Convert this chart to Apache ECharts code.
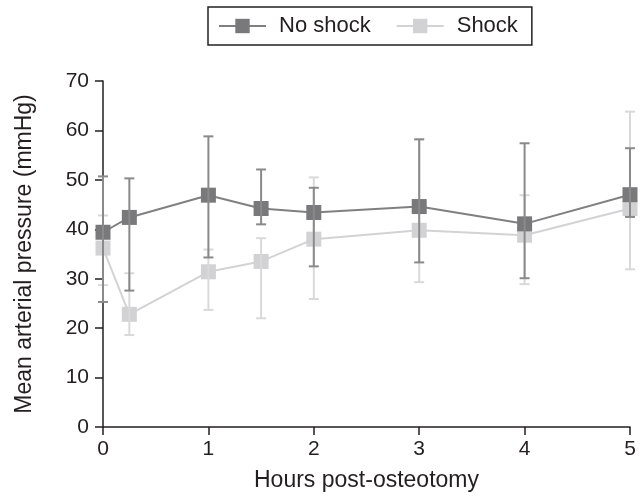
<!DOCTYPE html>
<html>
<head>
<meta charset="utf-8">
<script src="https://cdn.jsdelivr.net/npm/echarts@6/dist/echarts.min.js"></script>
<style>html,body{margin:0;padding:0;background:#fff}#c{width:644px;height:497px}</style>
</head>
<body>
<div id="c"></div>
<script>
var times = [0, 0.25, 1, 1.5, 2, 3, 4, 5];
var noShockMean = [39.4, 42.4, 46.9, 44.2, 43.4, 44.6, 41.1, 47.0];
var noShockUpper = [50.7, 50.3, 58.8, 52.1, 48.4, 58.2, 57.4, 56.4];
var noShockLower = [25.3, 27.6, 34.3, 41.0, 32.5, 33.3, 30.1, 42.5];
var shockMean = [36.2, 22.8, 31.4, 33.5, 38.0, 39.8, 38.8, 44.2];
var shockUpper = [42.8, 31.1, 35.9, 38.2, 50.5, 58.2, 46.9, 63.8];
var shockLower = [28.7, 18.6, 23.7, 22.0, 25.9, 29.3, 28.9, 31.9];
var xTicks = [0, 1, 2, 3, 4, 5];
var yTicks = [0, 10, 20, 30, 40, 50, 60, 70];

var FONT = 'Liberation Sans, Arial, sans-serif';
var DARK = '#79797b', DARK_LINE = '#808082', DARK_ERR = '#8a8a8c';
var LIGHT = '#d2d2d4', LIGHT_LINE = '#d3d3d5', LIGHT_ERR = '#d9d9db';

function pairs(xs, ys){ return xs.map(function(x,i){ return [x, ys[i]]; }); }
function errData(xs, lo, hi){ return xs.map(function(x,i){ return [x, lo[i], hi[i]]; }); }
function errRenderer(color){
  return function(params, api){
    var x = api.value(0);
    var pLo = api.coord([x, api.value(1)]);
    var pHi = api.coord([x, api.value(2)]);
    var hw = 5;
    var st = {stroke: color, lineWidth: 2};
    return {type:'group', children:[
      {type:'line', shape:{x1:pLo[0], y1:pLo[1], x2:pHi[0], y2:pHi[1]}, style:st},
      {type:'line', shape:{x1:pHi[0]-hw, y1:pHi[1], x2:pHi[0]+hw, y2:pHi[1]}, style:st},
      {type:'line', shape:{x1:pLo[0]-hw, y1:pLo[1], x2:pLo[0]+hw, y2:pLo[1]}, style:st}
    ]};
  };
}

var chart = echarts.init(document.getElementById('c'), null, {renderer:'canvas'});
chart.setOption({
  animation: false,
  backgroundColor: '#fff',
  textStyle: {fontFamily: FONT},
  grid: {left: 103, right: 14, top: 81, bottom: 65, containLabel: false},
  legend: {
    data: ['No shock', 'Shock'],
    left: 208, top: 7,
    padding: [8, 14, 8, 10],
    itemGap: 25,
    itemWidth: 47, itemHeight: 18,
    borderColor: '#222', borderWidth: 1.5,
    textStyle: {fontSize: 22, color: '#231f20', fontFamily: FONT, padding: [0,0,0,8]}
  },
  xAxis: {
    type: 'value', min: xTicks[0], max: xTicks[xTicks.length-1], interval: 1,
    name: 'Hours post-osteotomy', nameLocation: 'middle', nameGap: 42,
    nameTextStyle: {fontSize: 23, color: '#231f20', fontFamily: FONT},
    axisLine: {show: true, onZero: false, lineStyle: {color: '#231f20', width: 1.5}},
    axisTick: {show: true, length: 8, inside: false, lineStyle: {color: '#231f20', width: 1.5}},
    axisLabel: {fontSize: 21, color: '#231f20', margin: 12, fontFamily: FONT},
    splitLine: {show: false}
  },
  yAxis: {
    type: 'value', min: yTicks[0], max: yTicks[yTicks.length-1], interval: 10,
    name: 'Mean arterial pressure (mmHg)', nameLocation: 'middle', nameGap: 67,
    nameTextStyle: {fontSize: 23, color: '#231f20', fontFamily: FONT},
    axisLine: {show: true, lineStyle: {color: '#231f20', width: 1.5}},
    axisTick: {show: true, length: 8, inside: false, lineStyle: {color: '#231f20', width: 1.5}},
    axisLabel: {fontSize: 21, color: '#231f20', margin: 14, fontFamily: FONT},
    splitLine: {show: false}
  },
  series: [
    {
      name: 'Shock', type: 'line', z: 1,
      data: pairs(times, shockMean),
      symbol: 'rect', symbolSize: 15, showAllSymbol: true,
      lineStyle: {color: LIGHT_LINE, width: 2},
      itemStyle: {color: LIGHT, borderWidth: 0},
      clip: false
    },
    {
      name: 'Shock err', type: 'custom', z: 2,
      data: errData(times, shockLower, shockUpper),
      renderItem: errRenderer(LIGHT_ERR), clip: false,
      encode: {x: 0, y: [1, 2]}
    },
    {
      name: 'No shock', type: 'line', z: 3,
      data: pairs(times, noShockMean),
      symbol: 'rect', symbolSize: 15, showAllSymbol: true,
      lineStyle: {color: DARK_LINE, width: 2},
      itemStyle: {color: DARK, borderWidth: 0},
      clip: false
    },
    {
      name: 'No shock err', type: 'custom', z: 4,
      data: errData(times, noShockLower, noShockUpper),
      renderItem: errRenderer(DARK_ERR), clip: false,
      encode: {x: 0, y: [1, 2]}
    }
  ]
});
</script>
</body>
</html>
